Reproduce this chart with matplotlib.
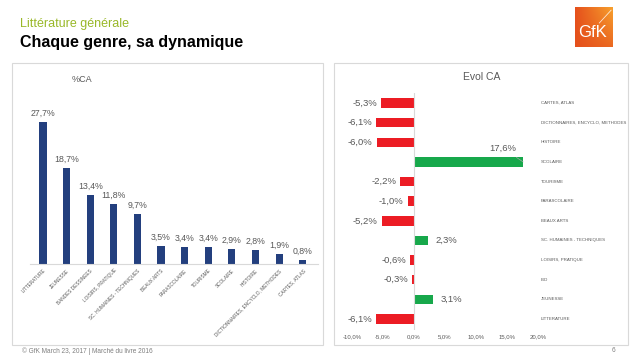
import numpy as np
import matplotlib
matplotlib.use("Agg")
import matplotlib.pyplot as plt
from matplotlib.patches import Rectangle
from matplotlib.colors import LinearSegmentedColormap

plt.rcParams['font.family'] = ['Liberation Sans', 'DejaVu Sans']

# --- données ---
genres_ca = ["LITTERATURE", "JEUNESSE", "BANDES DESSINEES", "LOISIRS, PRATIQUE",
             "SC. HUMAINES - TECHNIQUES", "BEAUX ARTS", "PARASCOLAIRE", "TOURISME",
             "SCOLAIRE", "HISTOIRE", "DICTIONNAIRES, ENCYCLO, METHODES", "CARTES, ATLAS"]
part_ca = [27.7, 18.7, 13.4, 11.8, 9.7, 3.5, 3.4, 3.4, 2.9, 2.8, 1.9, 0.8]

# de bas en haut
genres_evol = ["LITTERATURE", "JEUNESSE", "B.D", "LOISIRS, PRATIQUE",
               "SC. HUMAINES - TECHNIQUES", "BEAUX ARTS", "PARASCOLAIRE", "TOURISME",
               "SCOLAIRE", "HISTOIRE", "DICTIONNAIRES, ENCYCLO, METHODES", "CARTES, ATLAS"]
evol_ca = [-6.1, 3.1, -0.3, -0.6, 2.3, -5.2, -1.0, -2.2, 17.6, -6.0, -6.1, -5.3]
evol_ticks = [-10, -5, 0, 5, 10, 15, 20]

W, H = 638, 359
BLUE = '#233F7E'
RED = '#EC1C24'
GREEN = '#17A84B'
GREY_TXT = '#595959'
GREY_LINE = '#D9D9D9'


def fr(v):
    return f"{v:.1f}".replace('.', ',') + '%'


def px_axes(fig, x0, y0, x1, y1):
    # coordonnées en pixels (origine en haut à gauche)
    return fig.add_axes([x0 / W, 1 - y1 / H, (x1 - x0) / W, (y1 - y0) / H])


fig = plt.figure(figsize=(W / 100, H / 100), dpi=100)

# --- en-tête ---
fig.text(20 / W, 1 - 24 / H, "Littérature générale", color='#99B828',
         fontsize=9, va='center', ha='left')
fig.text(20 / W, 1 - 43 / H, "Chaque genre, sa dynamique", color='black',
         fontsize=11.5, fontweight='bold', va='center', ha='left')

# --- logo GfK ---
lax = px_axes(fig, 575, 7, 613, 47)
grad = np.linspace(0, 1, 100).reshape(1, -1) * np.linspace(0.3, 1, 100).reshape(-1, 1)
cmap = LinearSegmentedColormap.from_list('gfk', ['#E5501C', '#F7A12D'])
lax.imshow(grad, cmap=cmap, extent=[0, 1, 0, 1], aspect='auto', origin='lower')
lax.text(0.47, 0.36, "GfK", color='white', fontsize=12, ha='center', va='center')
lax.plot([0.64, 0.95], [0.6, 0.92], color='white', lw=0.6, alpha=0.8)
lax.set_xlim(0, 1)
lax.set_ylim(0, 1)
lax.axis('off')

# --- cadres ---
for x0, x1 in [(12, 323), (334, 628)]:
    fig.patches.append(Rectangle((x0 / W, 1 - 345 / H), (x1 - x0) / W, (345 - 63) / H,
                                 transform=fig.transFigure, fill=False,
                                 edgecolor=GREY_LINE, lw=0.8))

# --- graphique gauche : %CA ---
ax1 = px_axes(fig, 30, 100, 318, 264)
x = np.arange(len(part_ca))
bars = ax1.bar(x, part_ca, width=0.3, color=BLUE)
for b, v in zip(bars, part_ca):
    ax1.annotate(fr(v), (b.get_x() + b.get_width() / 2, v), xytext=(0, 3),
                 textcoords='offset points', ha='center', va='bottom',
                 fontsize=6.3, color=GREY_TXT)
ax1.set_xlim(-0.55, 11.65)
ax1.set_ylim(0, 32)
ax1.set_xticks(x)
ax1.set_xticklabels(genres_ca, rotation=45, ha='right', va='top',
                    rotation_mode='anchor', fontsize=3.4, color=GREY_TXT)
ax1.tick_params(axis='x', length=0, pad=3)
ax1.set_yticks([])
for s in ['left', 'right', 'top']:
    ax1.spines[s].set_visible(False)
ax1.spines['bottom'].set_color(GREY_LINE)
ax1.spines['bottom'].set_linewidth(0.8)
fig.text(82 / W, 1 - 79 / H, "%CA", fontsize=6.5, color=GREY_TXT, ha='center', va='center')

# --- graphique droit : Evol CA ---
ax2 = px_axes(fig, 352, 93, 538, 330)
y = np.arange(len(evol_ca))
colors = [GREEN if v > 0 else RED for v in evol_ca]
ax2.barh(y, evol_ca, height=0.48, color=colors)
ax2.set_xlim(-10, 20)
ax2.set_ylim(-0.56, 11.51)
ax2.axvline(0, color=GREY_LINE, lw=0.8)
for yi, v, g in zip(y, evol_ca, genres_evol):
    if v < 0:
        ax2.annotate(fr(v), (v, yi), xytext=(-3, 0), textcoords='offset points',
                     ha='right', va='center', fontsize=6.8, color=GREY_TXT)
    elif v < 10:
        ax2.annotate(fr(v), (v, yi), xytext=(5, 0), textcoords='offset points',
                     ha='left', va='center', fontsize=6.8, color=GREY_TXT)
    else:
        ax2.annotate(fr(v), (v, yi), xytext=(14.4, yi + 0.68), textcoords='data',
                     ha='center', va='center', fontsize=6.8, color=GREY_TXT,
                     arrowprops=dict(arrowstyle='-', color='#A6A6A6', lw=0.5,
                                     shrinkA=2, shrinkB=0))
    ax2.text(1.016, yi, g, transform=ax2.get_yaxis_transform(), ha='left',
             va='center', fontsize=3.2, color=GREY_TXT)
ax2.set_xticks(evol_ticks)
ax2.set_xticklabels([fr(t) for t in evol_ticks], fontsize=4.3, color=GREY_TXT)
ax2.tick_params(axis='x', length=0, pad=3)
ax2.set_yticks([])
for s in ax2.spines.values():
    s.set_visible(False)
fig.text(482 / W, 1 - 77 / H, "Evol CA", fontsize=7.5, color=GREY_TXT, ha='center', va='center')

# --- pied de page ---
fig.text(22 / W, 1 - 351 / H, "© GfK March 23, 2017 | Marché du livre 2016",
         fontsize=4.7, color='#7F7F7F', ha='left', va='center')
fig.text(613 / W, 1 - 351 / H, "6", fontsize=4.7, color='#7F7F7F', ha='center', va='center')

fig.savefig("out.png", dpi=100)
